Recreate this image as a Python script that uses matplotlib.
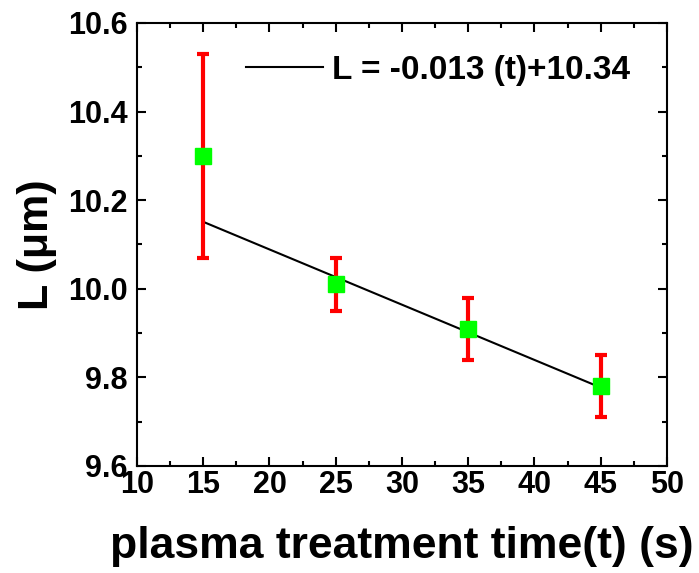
import numpy as np
import matplotlib
matplotlib.use('Agg')
import matplotlib.pyplot as plt
from matplotlib.ticker import MultipleLocator

plt.rcParams['font.family'] = ['Liberation Sans', 'DejaVu Sans']
plt.rcParams['font.weight'] = 'bold'

# data
time_s = [15, 25, 35, 45]
length_um = [10.30, 10.01, 9.91, 9.78]
length_err = [0.23, 0.06, 0.07, 0.07]

# linear fit L = a*t + b
fit_coef = [-0.01247, 10.338]
fit_t = [15, 45]
fit_label = 'L = -0.013 (t)+10.34'

fig = plt.figure(figsize=(6.99, 5.73), dpi=100)
ax = fig.add_axes([0.196, 0.187, 0.758, 0.773])

fit_line, = ax.plot(fit_t, np.polyval(fit_coef, fit_t), color='black', lw=1.5, zorder=2)
ax.errorbar(time_s, length_um, yerr=length_err, fmt='none', ecolor='#ff0000',
			elinewidth=3, capsize=4.5, capthick=3, zorder=3)
ax.plot(time_s, length_um, 's', color='#00ff00', markersize=12, mec='#00ff00', zorder=4)

ax.set_xlim(10, 50)
ax.set_ylim(9.6, 10.6)
ax.xaxis.set_major_locator(MultipleLocator(5))
ax.xaxis.set_minor_locator(MultipleLocator(2.5))
ax.yaxis.set_major_locator(MultipleLocator(0.2))
ax.yaxis.set_minor_locator(MultipleLocator(0.1))
ax.tick_params(which='both', direction='in', top=True, right=True, width=1.5)
ax.tick_params(which='major', length=6.5, labelsize=22)
ax.tick_params(which='minor', length=3.5)
ax.tick_params(axis='x', pad=3)
ax.tick_params(axis='y', pad=7)
for s in ax.spines.values():
	s.set_linewidth(1.5)

ax.set_xlabel('plasma treatment time(t) (s)', fontsize=32, fontweight='bold', labelpad=19)
ax.set_ylabel('L (μm)', fontsize=31, fontweight='bold', labelpad=8)

ax.legend([fit_line], [fit_label], loc='upper left', bbox_to_anchor=(0.15, 0.995),
		  frameon=False, handlelength=2.3, handletextpad=0.28,
		  prop={'weight': 'bold', 'size': 24})

fig.savefig('out.png', dpi=100)
